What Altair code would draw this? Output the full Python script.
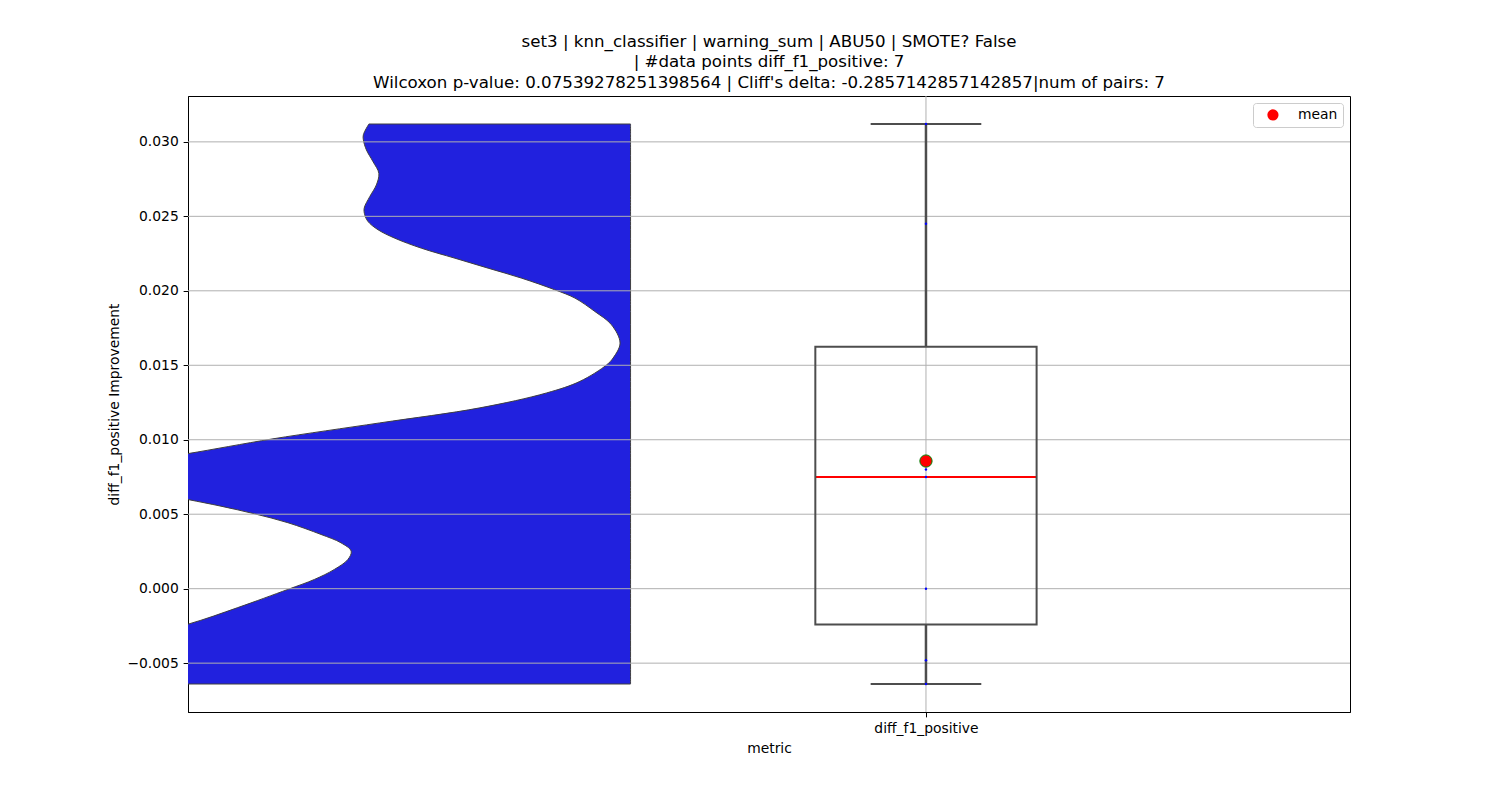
import altair as alt
import numpy as np
import pandas as pd

# ---------------- data ----------------
category = "diff_f1_positive"
metric_values = [0.0312, 0.0245, 0.0080, 0.0075, 0.0000, -0.0048, -0.0064]

# half-violin profile (value, half-width in category units)
violin_y = [0.0312, 0.03048, 0.03013, 0.02946, 0.02867, 0.02789, 0.02711, 0.02632,
            0.02555, 0.02510, 0.02465, 0.02410, 0.02353, 0.02286, 0.02219, 0.02152,
            0.02085, 0.02007, 0.01951, 0.01861, 0.01772, 0.01649, 0.01549, 0.01502,
            0.01392, 0.01314, 0.01214, 0.01113, 0.01006, 0.00907, 0.0085, 0.0077,
            0.0068, 0.00599, 0.00554, 0.00503, 0.00443, 0.00364, 0.00308, 0.00252,
            0.00196, 0.00129, 0.00062, -0.00005, -0.00127, -0.00239,
            -0.0035, -0.0050, -0.0064]
violin_halfwidth = [0.946, 0.966, 0.966, 0.955, 0.931, 0.910, 0.919, 0.943,
                    0.963, 0.961, 0.949, 0.913, 0.852, 0.756, 0.635, 0.515,
                    0.394, 0.274, 0.201, 0.129, 0.069, 0.038, 0.063, 0.087,
                    0.183, 0.304, 0.545, 0.907, 1.293, 1.600, 1.80, 1.93,
                    1.82, 1.601, 1.481, 1.360, 1.239, 1.119, 1.047, 1.010,
                    1.022, 1.071, 1.143, 1.239, 1.420, 1.601,
                    1.85, 1.98, 1.95]

y_ticks = [-0.005, 0.0, 0.005, 0.010, 0.015, 0.020, 0.025, 0.030]

title_lines = [
    "set3 | knn_classifier | warning_sum | ABU50 | SMOTE? False",
    "| #data points diff_f1_positive: 7",
    "Wilcoxon p-value: 0.07539278251398564 | Cliff's delta: -0.2857142857142857|num of pairs: 7",
]

# ---------------- layout / style constants ----------------
FONT = "DejaVu Sans"
VIOLIN_BLUE = "#2121de"
LINE_GRAY = "#4d4d4d"
GRID_GRAY = "#b0b0b0"
X_DOMAIN = [-2.668, 1.533]
VIOLIN_CENTER = -1.068
BOX_HALF = 0.4
CAP_HALF = 0.2

vals = np.array(metric_values)
q1, med, q3 = np.percentile(vals, [25, 50, 75])
vmin, vmax = vals.min(), vals.max()
vmean = vals.mean()
pad = 0.05 * (vmax - vmin)
Y_DOMAIN = [vmin - pad, vmax + pad]

xscale = alt.Scale(domain=X_DOMAIN, nice=False, zero=False)
yscale = alt.Scale(domain=Y_DOMAIN, nice=False, zero=False)
x_axis = alt.Axis(values=[0], labelExpr=f"'{category}'", title="metric", grid=False)
y_axis = alt.Axis(values=y_ticks, format=".3f",
                  labelExpr="replace(datum.label, '-', '\u2212')",
                  title="diff_f1_positive Improvement", grid=False)


def X(field):
    return alt.X(field, type="quantitative", scale=xscale, axis=x_axis)


def Y(field):
    return alt.Y(field, type="quantitative", scale=yscale, axis=y_axis)


violin_df = pd.DataFrame({
    "value": violin_y,
    "left": [VIOLIN_CENTER - w for w in violin_halfwidth],
    "center": [VIOLIN_CENTER] * len(violin_y),
})
stats_df = pd.DataFrame({
    "bl": [-BOX_HALF], "br": [BOX_HALF], "q1": [q1], "q3": [q3], "med": [med],
})
whisk_df = pd.DataFrame({"pos": [0.0, 0.0], "a": [q3, vmin], "b": [vmax, q1]})
cap_df = pd.DataFrame({"ca": [-CAP_HALF, -CAP_HALF], "cb": [CAP_HALF, CAP_HALF], "y": [vmax, vmin]})
points_df = pd.DataFrame({"pos": [0.0] * len(metric_values), "value": metric_values})
mean_df = pd.DataFrame({"pos": [0.0], "value": [vmean], "label": ["mean"]})
hgrid_df = pd.DataFrame({"tick": y_ticks})
vgrid_df = pd.DataFrame({"pos": [0.0]})

violin = alt.Chart(violin_df).mark_area(
    orient="horizontal", interpolate="catmull-rom", fill=VIOLIN_BLUE, fillOpacity=1,
    stroke="#3f3f3f", strokeWidth=1, clip=True
).encode(y=Y("value"), x=alt.X("left", type="quantitative", scale=xscale, axis=x_axis, stack=None),
         x2="center:Q")

box_fill = alt.Chart(stats_df).mark_rect(fill="white", strokeWidth=0).encode(
    x=X("bl"), x2="br:Q", y=Y("q1"), y2="q3:Q")

hgrid = alt.Chart(hgrid_df).mark_rule(color=GRID_GRAY, strokeWidth=1).encode(y=Y("tick"))
vgrid = alt.Chart(vgrid_df).mark_rule(color=GRID_GRAY, strokeWidth=1).encode(x=X("pos"))

whiskers = alt.Chart(whisk_df).mark_rule(color=LINE_GRAY, strokeWidth=2.5).encode(
    x=X("pos"), y=Y("a"), y2="b:Q")
caps = alt.Chart(cap_df).mark_rule(color=LINE_GRAY, strokeWidth=2).encode(
    x=X("ca"), x2="cb:Q", y=Y("y"))
median = alt.Chart(stats_df).mark_rule(color="red", strokeWidth=2).encode(
    x=X("bl"), x2="br:Q", y=Y("med"))
box_edge = alt.Chart(stats_df).mark_rect(fill="white", fillOpacity=0, stroke=LINE_GRAY,
                                          strokeWidth=2).encode(
    x=X("bl"), x2="br:Q", y=Y("q1"), y2="q3:Q")
points = alt.Chart(points_df).mark_circle(color="blue", size=6, opacity=1).encode(
    x=X("pos"), y=Y("value"))
mean_pt = alt.Chart(mean_df).mark_point(filled=True, size=150, stroke="green",
                                         strokeWidth=1, opacity=1, shape="circle").encode(
    x=X("pos"), y=Y("value"),
    color=alt.Color("label:N", scale=alt.Scale(domain=["mean"], range=["red"]),
                    legend=alt.Legend(title=None, orient="top-right", offset=7, padding=5,
                                      strokeColor="#cccccc", fillColor="white",
                                      cornerRadius=3, symbolType="circle", symbolSize=125,
                                      symbolStrokeWidth=0, symbolOffset=8, labelOffset=18,
                                      labelFont=FONT, labelFontSize=13.89,
                                      labelColor="black")))

chart = alt.layer(
    violin, box_fill, hgrid, vgrid, whiskers, caps, median, box_edge, points, mean_pt
).properties(
    width=1162, height=616,
    padding={"left": 188, "top": 96, "right": 150, "bottom": 88},
    autosize=alt.AutoSizeParams(type="none"),
    title=alt.TitleParams(text=title_lines, font=FONT, fontSize=16.67, fontWeight="normal",
                          color="black", anchor="middle", baseline="bottom",
                          lineHeight=20.5, offset=-13),
).configure(
    font=FONT, background="white",
).configure_view(
    stroke="black", strokeWidth=1,
).configure_axis(
    labelFont=FONT, titleFont=FONT, labelFontSize=13.89, titleFontSize=13.89,
    labelColor="black", titleColor="black", titleFontWeight="normal",
    domainColor="black", domainWidth=1, tickColor="black", tickWidth=1,
    tickSize=4.86, labelPadding=4.86, titlePadding=5.5,
)

chart.save("out.html", embed_options={"renderer": "svg", "actions": False})
